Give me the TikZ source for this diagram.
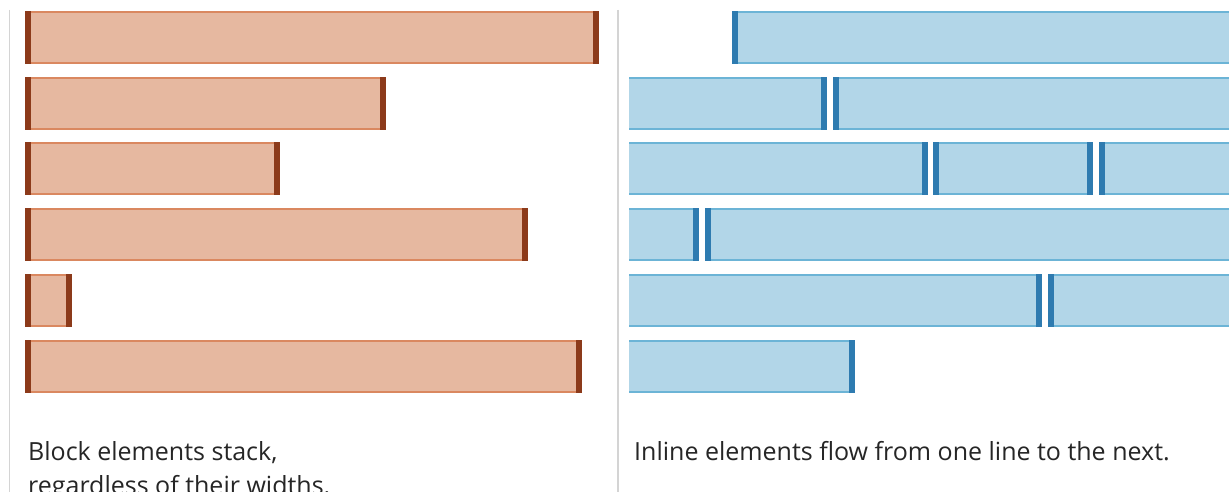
\documentclass[tikz,border=0pt]{standalone}
\usepackage{fontspec}
\setmainfont{Open Sans}
\definecolor{Lfill}{RGB}{230,184,160}
\definecolor{Ledge}{RGB}{218,136,96}
\definecolor{Ldark}{RGB}{140,58,26}
\definecolor{Rfill}{RGB}{178,214,232}
\definecolor{Redge}{RGB}{108,180,214}
\definecolor{Rdark}{RGB}{46,123,176}
\definecolor{rule}{RGB}{212,212,212}
\newcommand\blkbar[7]{% #1 name, #2 colour set, #3 x1, #4 x2, #5 top, #6 left cap, #7 right cap
  \fill[#2fill] (#3,#5) rectangle (#4,#5+53);
  \draw[#2edge, line width=1.6pt] (#3,#5+0.8) -- (#4,#5+0.8) (#3,#5+52.2) -- (#4,#5+52.2);
  \ifnum#6=1 \fill[#2dark] (#3,#5) rectangle (#3+6,#5+53);\fi
  \ifnum#7=1 \fill[#2dark] (#4-6,#5) rectangle (#4,#5+53);\fi
  \coordinate (#1) at (#3,#5);
}
\tikzset{caption/.style={anchor=base west, inner sep=0pt, font=\fontsize{25}{30}\selectfont, text=black!85}}
\begin{document}
\begin{tikzpicture}[x=1pt,y=-1pt]
\useasboundingbox (0,0) rectangle (1229,492);
\fill[white] (0,0) rectangle (1229,492);
% separators
\draw[rule, line width=1.5pt] (9.5,10) -- (9.5,492);
\draw[rule, line width=1.5pt] (618,10) -- (618,492);
% block bars
\blkbar{b1}{L}{25}{599}{11}{1}{1}
\blkbar{b2}{L}{25}{386}{77}{1}{1}
\blkbar{b3}{L}{25}{280}{142}{1}{1}
\blkbar{b4}{L}{25}{528}{208}{1}{1}
\blkbar{b5}{L}{25}{72}{274}{1}{1}
\blkbar{b6}{L}{25}{582}{340}{1}{1}
% inline bars
\blkbar{i1}{R}{732}{1229}{11}{1}{0}
\blkbar{i2a}{R}{629}{827}{77}{0}{1}
\blkbar{i2b}{R}{833}{1229}{77}{1}{0}
\blkbar{i3a}{R}{629}{928}{142}{0}{1}
\blkbar{i3b}{R}{933}{1093}{142}{1}{1}
\blkbar{i3c}{R}{1099}{1229}{142}{1}{0}
\blkbar{i4a}{R}{629}{699}{208}{0}{1}
\blkbar{i4b}{R}{705}{1229}{208}{1}{0}
\blkbar{i5a}{R}{629}{1042}{274}{0}{1}
\blkbar{i5b}{R}{1048}{1229}{274}{1}{0}
\blkbar{i6a}{R}{629}{855}{340}{0}{1}
% captions
\node[caption] (cap1) at (28,460) {Block elements stack,};
\node[caption] (cap2) at (28,494) {regardless of their widths.};
\node[caption] (cap3) at (634,460) {Inline elements flow from one line to the next.};
\end{tikzpicture}
\end{document}
